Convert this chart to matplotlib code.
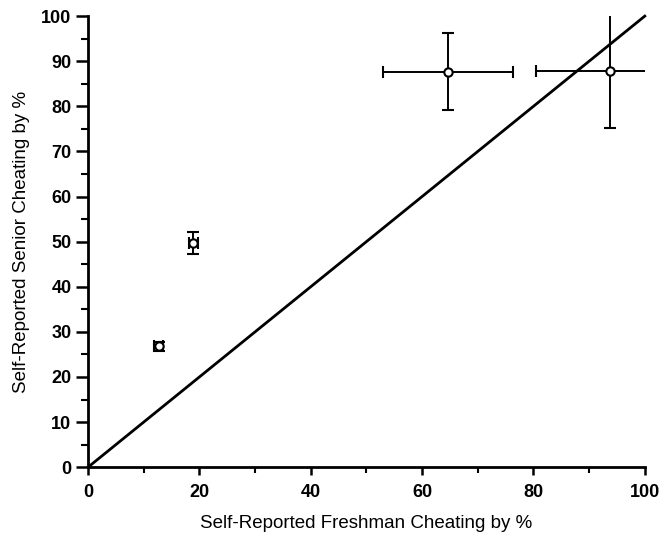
import numpy as np
import matplotlib.pyplot as plt
from matplotlib.ticker import MultipleLocator

plt.rcParams['font.family'] = ['Liberation Sans', 'DejaVu Sans']

# freshman vs senior self-reported cheating, with error bars
freshman = [12.7, 18.9, 64.7, 93.8]
senior = [26.8, 49.7, 87.7, 87.9]
freshman_err = [0.8, 0.8, 11.7, 13.3]
senior_err = [1.0, 2.5, 8.6, 12.6]

fig = plt.figure(figsize=(6.62, 5.37), dpi=100)
ax = fig.add_axes([0.133, 0.130, 0.841, 0.840])

# line of equality
ax.plot([0, 100], [0, 100], color='black', lw=2.0, clip_on=False, zorder=2)

ax.errorbar(freshman, senior, xerr=freshman_err, yerr=senior_err,
            fmt='o', color='black', mfc='white', mec='black', mew=1.5,
            ms=6, elinewidth=1.4, capsize=4, capthick=1.4, zorder=3)

ax.set_xlim(0, 100)
ax.set_ylim(0, 100)
ax.xaxis.set_major_locator(MultipleLocator(20))
ax.xaxis.set_minor_locator(MultipleLocator(10))
ax.yaxis.set_major_locator(MultipleLocator(10))
ax.yaxis.set_minor_locator(MultipleLocator(5))

for side in ['top', 'right']:
    ax.spines[side].set_visible(False)
for side in ['left', 'bottom']:
    ax.spines[side].set_linewidth(2.0)

ax.tick_params(axis='x', which='major', direction='out', length=6, width=1.8,
               labelsize=13, pad=6)
ax.tick_params(axis='x', which='minor', direction='out', length=4, width=1.5)
ax.tick_params(axis='y', which='major', direction='out', length=9, width=1.8,
               labelsize=13, pad=3)
ax.tick_params(axis='y', which='minor', direction='out', length=5, width=1.5)
for lab in ax.get_xticklabels() + ax.get_yticklabels():
    lab.set_fontweight('bold')

ax.set_xlabel('Self-Reported Freshman Cheating by %', fontsize=13.5, labelpad=10)
ax.set_ylabel('Self-Reported Senior Cheating by %', fontsize=13.5, labelpad=8)

fig.savefig('out.png', dpi=100)
